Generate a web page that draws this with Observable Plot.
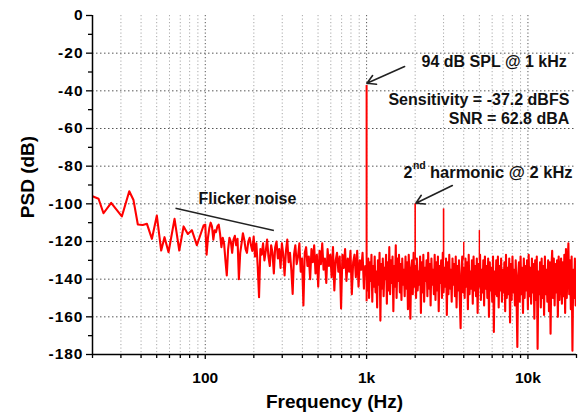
<!DOCTYPE html>
<html>
<head>
<meta charset="utf-8">
<script src="https://cdn.jsdelivr.net/npm/d3@7"></script>
<script src="https://cdn.jsdelivr.net/npm/@observablehq/plot@0.6"></script>
<style>
  html, body { margin: 0; padding: 0; background: #fff; }
  #chart svg { display: block; }
  #chart g[aria-label="y-axis tick label"] text { letter-spacing: 1px; }
</style>
</head>
<body>
<div id="chart"></div>
<script>
// ---- Data ----
// Low-frequency part: explicit (frequency Hz, PSD dB) pairs
const lowFreq = [20, 21.8, 23.4, 26.1, 30.4, 33.8, 35.9, 38.2, 41.0, 43.5, 46.7, 50.1, 53.3, 55.9, 59.2, 64.5, 69.0, 73.4, 78.0, 82.6, 88.7, 97.6];
const lowPSD  = [-96, -97.3, -105, -99.5, -106.7, -93.3, -98, -111, -111.2, -110.6, -118.6, -106.2, -124.8, -117.7, -125.7, -108, -124.8, -112, -116, -114, -122, -111.5];

// 100 Hz .. 1 kHz: PSD on log-spaced bins (120 per decade)
const midStart = 100, midEnd = 1000;
const midPSD = [
  -111,-127,-118,-113,-110,-112,-119,-114,-115,-112,
  -111,-116,-123,-118,-121,-130,-138,-124,-118,-120,
  -126,-119,-117,-122,-118.6,-140,-126,-121,-115.6,-119,
  -124,-126,-120,-118,-122,-125,-117.4,-128,-121,-133,
  -149.6,-124,-127,-121,-130,-125,-119,-128,-133,-122,
  -126,-137,-123,-120,-129,-124,-134,-121,-127,-138,
  -125,-119,-131,-126,-135,-147.8,-127,-122,-132,-128,
  -121,-136,-129,-154,-126,-123,-133,-128,-140,-124,
  -131,-122,-137,-127,-144,-125,-132,-121,-135,-129,
  -142,-124,-133,-127,-139,-123,-146,-130,-126,-136,
  -128,-155.6,-127,-134,-124,-141,-129,-136,-125,-148,
  -131,-127,-139,-125,-144,-130,-135,-126,-145,-133
];

// 1 kHz .. 20 kHz: PSD on log-spaced bins
const highStart = 1000, highEnd = 20000;
const highPSD = [
  -135,-146,-129,-150,-131,-141,-127,-152,-133,-144,-128,-147,-136,-155,-130,-143,-126,-162,-132,-145,
  -129,-149,-134,-140,-127,-153,-131,-146,-123,-148,-130,-142,-128,-157,-133,-144,-122,-150,-129,-141,
  -127,-147,-132,-151,-129,-143,-135,-149,-128,-145,-131,-156,-127,-142,-161,-134,-130,-148,-126,-144,
  -133,-150,-129,-146,-136,-143,-128,-158,-131,-147,-127,-152,-134,-141,-130,-149,-126,-145,-132,-154,
  -129,-143,-135,-148,-127,-151,-131,-146,-128,-157,-133,-142,-130,-150,-126,-147,-134,-144,-129,-159,
  -131,-148,-127,-145,-135,-152,-129,-143,-132,-149,-128,-155,-133,-146,-130,-151,-166,-137,-128,-147,
  -134,-150,-129,-144,-131,-156,-127,-148,-136,-145,-130,-153,-128,-146,-133,-149,-129,-158,-132,-144,
  -127,-151,-135,-147,-130,-154,-128,-145,-133,-150,-129,-160,-131,-146,-134,-152,-128,-168,-136,-148,
  -130,-149,-128,-155,-133,-146,-129,-152,-135,-147,-131,-157,-127,-150,-134,-148,-129,-163,-132,-151,
  -128,-147,-135,-154,-130,-149,-176,-138,-131,-152,-128,-148,-134,-158,-129,-150,-133,-146,-130,-156,
  -127,-149,-134,-153,-129,-147,-132,-161,-130,-151,-128,-177,-136,-148,-131,-155,-129,-150,-133,-159,
  -128,-148,-135,-152,-130,-157,-131,-169,-134,-125,-150,-129,-154,-132,-147,-130,-160,-128,-151,-134,
  -129,-153,-131,-149,-127,-158,-124,-150,-133,-121,-148,-130,-156,-128,-178,-135,-150,-129,-154,-132
];

// Tone and harmonics (spikes)
const harmFreq = [1000, 2000, 3000, 4000, 5000];
const harmTop  = [-37.2, -100, -102.7, -120.4, -114.2];
const harmBase = [-152, -130, -130, -130, -130];
const harmWidth = [2, 1.6, 1.6, 1.4, 1.4];

// Axis ticks
const yMajor = [0, -20, -40, -60, -80, -100, -120, -140, -160, -180];
const yMinor = [-10, -30, -50, -70, -90, -110, -130, -150, -170];
const yGrid = [-20, -40, -60, -80, -100, -120, -140, -160];
const xDecades = [100, 1000, 10000];
const xDecadeLabels = ["100", "1k", "10k"];
const xMinor = [20, 30, 40, 50, 60, 70, 80, 90, 200, 300, 400, 500, 600, 700, 800, 900,
                2000, 3000, 4000, 5000, 6000, 7000, 8000, 9000, 20000];

// Annotations (data coordinates)
const notesRight = [
  {f: 17400, db: -24.4, text: "94 dB SPL @ 1 kHz"},
  {f: 18060, db: -44.8, text: "Sensitivity = -37.2 dBFS"},
  {f: 18060, db: -54.9, text: "SNR = 62.8 dBA"}
];
const notesLeft = [
  {f: 1696, db: -83.4, text: "2", size: 16},
  {f: 2470, db: -83.4, text: "harmonic @ 2 kHz", size: 16.5},
  {f: 90.9, db: -97.3, text: "Flicker noise", size: 16}
];
const notesSup = [{f: 1936, db: -79.6, text: "nd"}];
const arrows = [
  {f1: 1720, d1: -27.1, f2: 1005, d2: -36.0},
  {f1: 3399, d1: -90.3, f2: 2020, d2: -99.7}
];
const flickerLine = [{f1: 65.4, d1: -102.3, f2: 266.3, d2: -114.2}];

// ---- Build the series table ----
const series = [];
lowFreq.forEach((f, i) => series.push({f, db: lowPSD[i]}));
midPSD.forEach((v, i) => series.push({f: midStart * Math.pow(midEnd / midStart, i / midPSD.length), db: v}));
highPSD.forEach((v, i) => series.push({f: highStart * Math.pow(highEnd / highStart, i / (highPSD.length - 1)), db: v}));

const harmonics = harmFreq.map((f, i) => ({f, top: harmTop[i], base: harmBase[i], w: harmWidth[i]}));
const labelMap = new Map(xDecades.map((d, i) => [d, xDecadeLabels[i]]));

const chart = Plot.plot({
  width: 579,
  height: 416,
  marginLeft: 92,
  marginRight: 3,
  marginTop: 15,
  marginBottom: 62,
  x: {type: "log", domain: [20, 20000]},
  y: {domain: [-180, 0]},
  style: {
    fontFamily: "'Liberation Sans', Arial, sans-serif",
    fontWeight: "bold",
    color: "black",
    background: "white",
    overflow: "visible"
  },
  marks: [
    Plot.gridX(xMinor.filter(d => d > 20 && d < 20000), {stroke: "#a8a8a8", strokeOpacity: 1, strokeDasharray: "1.2,2.3", strokeWidth: 1}),
    Plot.gridX(xDecades, {stroke: "#555", strokeOpacity: 1, strokeDasharray: "1.2,2.3", strokeWidth: 1}),
    Plot.gridY(yGrid, {stroke: "#555", strokeOpacity: 1, strokeDasharray: "1.5,2.5", strokeWidth: 1}),
    Plot.line(series, {x: "f", y: "db", stroke: "#ff0000", strokeWidth: 2.1, clip: true}),
    Plot.ruleX(harmonics, {x: "f", y1: "base", y2: "top", stroke: "#ff0000", strokeWidth: "w"}),
    Plot.ruleX([20], {stroke: "black", strokeWidth: 1.5}),
    Plot.ruleY([-180], {stroke: "black", strokeWidth: 1.5}),
    Plot.axisY(yMajor, {tickSize: 6, tickPadding: 3, fontSize: 15.5, tickFormat: d => String(d), label: null, strokeWidth: 1.3}),
    Plot.axisY(yMinor, {tickSize: 4, tickFormat: () => "", label: null, strokeWidth: 1.3}),
    Plot.axisX(xDecades, {tickSize: 5, tickPadding: 12, fontSize: 15.5, tickFormat: d => labelMap.get(d), label: null, strokeWidth: 1.3}),
    Plot.axisX(xMinor, {tickSize: 4, tickFormat: () => "", label: null, strokeWidth: 1.3}),
    Plot.text(["Frequency (Hz)"], {frameAnchor: "bottom", dy: 47, fontSize: 19, textAnchor: "middle", lineAnchor: "middle", fontWeight: "bold"}),
    Plot.text(["PSD (dB)"], {frameAnchor: "left", dx: -65, dy: -8, rotate: -90, fontSize: 19, textAnchor: "middle", lineAnchor: "middle", fontWeight: "bold"}),
    Plot.link(flickerLine, {x1: "f1", y1: "d1", x2: "f2", y2: "d2", stroke: "#222", strokeWidth: 1.6}),
    Plot.arrow(arrows, {x1: "f1", y1: "d1", x2: "f2", y2: "d2", stroke: "#222", strokeWidth: 1.6, headLength: 9}),
    Plot.text(notesRight, {x: "f", y: "db", text: "text", textAnchor: "end", fontSize: 16, lineAnchor: "middle", fill: "#111", fontWeight: "bold"}),
    Plot.text(notesLeft, {x: "f", y: "db", text: "text", textAnchor: "start", fontSize: "size", lineAnchor: "middle", fill: "#111", fontWeight: "bold"}),
    Plot.text(notesSup, {x: "f", y: "db", text: "text", textAnchor: "start", fontSize: 10.5, lineAnchor: "middle", fill: "#111", fontWeight: "bold"})
  ]
});
document.getElementById("chart").appendChild(chart);
</script>
</body>
</html>
